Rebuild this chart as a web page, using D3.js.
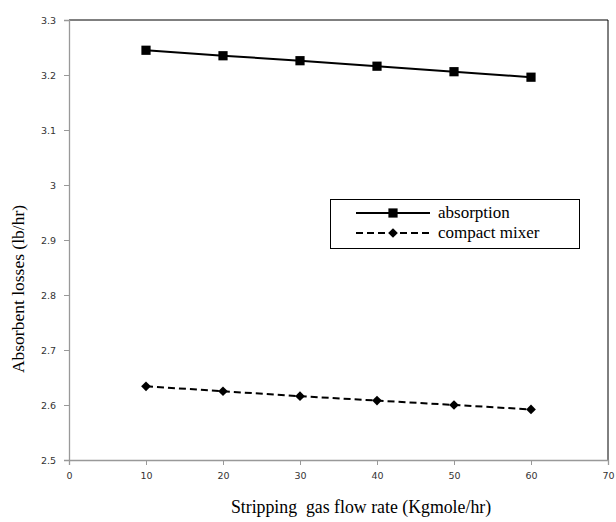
<!DOCTYPE html>
<html><head><meta charset="utf-8">
<script src="https://cdn.jsdelivr.net/npm/d3@7"></script>
<style>body{margin:0;background:#fff}</style>
</head><body>
<script>
const flowRates = [10, 20, 30, 40, 50, 60];
const absorption = [3.245, 3.235, 3.226, 3.216, 3.206, 3.196];
const compactMixer = [2.634, 2.625, 2.616, 2.608, 2.600, 2.592];
const xTicks = [0, 10, 20, 30, 40, 50, 60, 70];
const yTicks = [2.5, 2.6, 2.7, 2.8, 2.9, 3, 3.1, 3.2, 3.3];
const seriesNames = ["absorption", "compact mixer"];

const W = 616, H = 522;
const svg = d3.select("body").append("svg").attr("width", W).attr("height", H);
const x = d3.scaleLinear().domain([0, 70]).range([69, 608]);
const y = d3.scaleLinear().domain([2.5, 3.3]).range([460, 20]);

// plot frame (top/right)
svg.append("path").attr("d", `M${x(0)},${y(3.3)}H${x(70)}V${y(2.5)}`)
  .attr("fill", "none").attr("stroke", "#000").attr("stroke-width", 1);

const yAxis = svg.append("g").attr("transform", `translate(${x(0)},0)`)
  .call(d3.axisLeft(y).tickValues(yTicks).tickSize(5).tickPadding(8).tickFormat(d => d3.format("")(+d.toFixed(1))));
const xAxis = svg.append("g").attr("transform", `translate(0,${y(2.5)})`)
  .call(d3.axisBottom(x).tickValues(xTicks).tickSize(5).tickPadding(7));
[yAxis, xAxis].forEach(a => {
  a.select(".domain").attr("stroke", "#999").attr("stroke-width", 1.3);
  a.selectAll(".tick line").attr("stroke", "#999");
  a.selectAll(".tick text").attr("font-family", "DejaVu Sans, sans-serif").attr("font-size", 9.5).attr("fill", "#333");
});

const series = [
  {name: seriesNames[0], values: absorption, dash: null, marker: "square"},
  {name: seriesNames[1], values: compactMixer, dash: "7,4", marker: "diamond"}
];
const line = d3.line().x(d => x(d[0])).y(d => y(d[1]));
const sym = {square: d3.symbol().type(d3.symbolSquare).size(85), diamond: d3.symbol().type(d3.symbolDiamond2).size(60)};

series.forEach(s => {
  const pts = flowRates.map((f, i) => [f, s.values[i]]);
  svg.append("path").attr("d", line(pts)).attr("fill", "none").attr("stroke", "#000")
    .attr("stroke-width", 2).attr("stroke-dasharray", s.dash);
  svg.selectAll(null).data(pts).enter().append("path")
    .attr("d", sym[s.marker]).attr("transform", d => `translate(${x(d[0])},${y(d[1])})`)
    .attr("fill", "#000");
});

// legend
const lg = svg.append("g");
lg.append("rect").attr("x", 330.5).attr("y", 199.5).attr("width", 249).attr("height", 49)
  .attr("fill", "#fff").attr("stroke", "#000").attr("stroke-width", 1);
series.forEach((s, i) => {
  const ly = 213 + i * 20;
  lg.append("line").attr("x1", 356).attr("x2", 430).attr("y1", ly).attr("y2", ly)
    .attr("stroke", "#000").attr("stroke-width", 2).attr("stroke-dasharray", s.dash);
  lg.append("path").attr("d", sym[s.marker]).attr("transform", `translate(393,${ly})`).attr("fill", "#000");
  lg.append("text").attr("x", 438).attr("y", ly + 5).text(s.name)
    .attr("font-family", "Liberation Serif, serif").attr("font-size", 17).attr("fill", "#000");
});

// axis titles
svg.append("text").attr("transform", "translate(24,289) rotate(-90)").attr("text-anchor", "middle")
  .attr("font-family", "Liberation Serif, serif").attr("font-size", 17.5).text("Absorbent losses (lb/hr)");
svg.append("text").attr("x", 361).attr("y", 513).attr("text-anchor", "middle").attr("xml:space", "preserve")
  .style("white-space", "pre")
  .attr("font-family", "Liberation Serif, serif").attr("font-size", 17.8).text("Stripping  gas flow rate (Kgmole/hr)");
</script>
</body></html>
